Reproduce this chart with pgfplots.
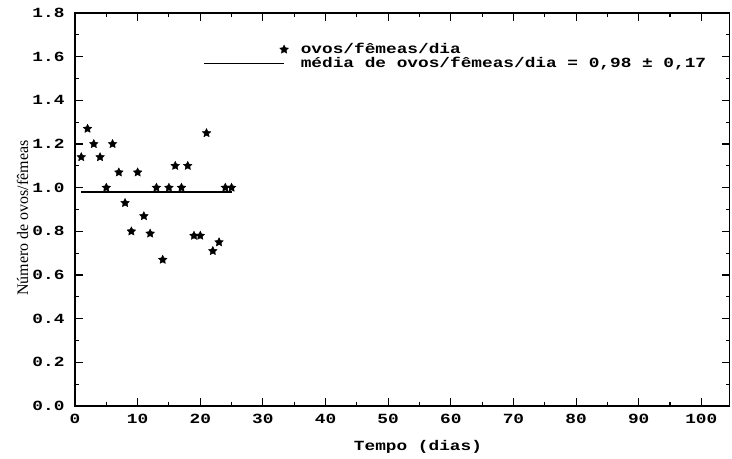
\documentclass[border=0pt]{standalone}
\usepackage{fontspec}
\usepackage{pgfplots}
\usepackage{pgfplotstable}
\pgfplotsset{compat=1.18}
\setmainfont{Liberation Serif}
\newfontfamily\plotfont{Liberation Mono}[FakeStretch=1.27]
\newcommand\plotfontsize{\plotfont\bfseries\fontsize{14bp}{14bp}\selectfont}

% filled five-pointed star
\pgfdeclareplotmark{fstar}{%
  \pgfpathmoveto{\pgfpointpolar{90}{\pgfplotmarksize}}%
  \pgfpathlineto{\pgfpointpolar{126}{0.5\pgfplotmarksize}}%
  \pgfpathlineto{\pgfpointpolar{162}{\pgfplotmarksize}}%
  \pgfpathlineto{\pgfpointpolar{198}{0.5\pgfplotmarksize}}%
  \pgfpathlineto{\pgfpointpolar{234}{\pgfplotmarksize}}%
  \pgfpathlineto{\pgfpointpolar{270}{0.5\pgfplotmarksize}}%
  \pgfpathlineto{\pgfpointpolar{306}{\pgfplotmarksize}}%
  \pgfpathlineto{\pgfpointpolar{342}{0.5\pgfplotmarksize}}%
  \pgfpathlineto{\pgfpointpolar{18}{\pgfplotmarksize}}%
  \pgfpathlineto{\pgfpointpolar{54}{0.5\pgfplotmarksize}}%
  \pgfpathclose
  \pgfusepathqfillstroke
}

% eggs per female per day
\pgfplotstableread{
dia  ovos
1    1.14
2    1.27
3    1.20
4    1.14
5    1.00
6    1.20
7    1.07
8    0.93
9    0.80
10   1.07
11   0.87
12   0.79
13   1.00
14   0.67
15   1.00
16   1.10
17   1.00
18   1.10
19   0.78
20   0.78
21   1.25
22   0.71
23   0.75
24   1.00
25   1.00
}\ovostable

\begin{document}
\begin{tikzpicture}
\useasboundingbox (0,0) rectangle (732bp,459bp);
\begin{axis}[
  at={(75bp,53bp)}, anchor=south west,
  scale only axis, width=654.5bp, height=393bp,
  xmin=0, xmax=104.5, ymin=0, ymax=1.8,
  xtick={0,10,...,100},
  ytick={0,0.2,0.4,0.6,0.8,1.0,1.2,1.4,1.6,1.8},
  minor x tick num=1, minor y tick num=1,
  tick align=inside, major tick length=8bp, minor tick length=4bp,
  tick style={black, line width=1.1bp},
  axis line style={black, line width=1.6bp},
  /pgf/number format/assume math mode=true,
  xticklabel style={font=\plotfontsize, yshift=-5bp},
  yticklabel style={font=\plotfontsize, xshift=-7bp,
    /pgf/number format/.cd, fixed, fixed zerofill, precision=1},
  xlabel={Tempo (dias)},
  xlabel style={font=\plotfontsize, at={(axis description cs:0.524,-0.104)}, anchor=center},
  ylabel={Número de ovos/fêmeas},
  ylabel style={font=\fontsize{16bp}{16bp}\selectfont, at={(axis description cs:-0.08,0.478)}, anchor=center},
  legend style={draw=none, fill=none, at={(axis cs:20,1.668)}, anchor=north west,
    font=\plotfontsize, row sep=3bp,
    nodes={inner sep=0pt, text height=9bp, text depth=2bp},
    /tikz/every odd column/.append style={column sep=11.5bp}},
  legend cell align=left,
  clip=false,
]
\addplot[only marks, mark=fstar, mark size=4.5bp, black,
  legend image code/.code={\path (0bp,-4bp) (84.5bp,4bp);
    \draw[black] plot[only marks, mark=fstar, mark size=4.5bp] coordinates {(80bp,0bp)};}]
  table[x=dia, y=ovos] {\ovostable};
\addlegendentry{ovos/fêmeas/dia}
\addplot[black, line width=1.3bp,
  legend image code/.code={\path (0bp,-4bp) (84.5bp,4bp);
    \draw[black, line width=1.3bp] (0bp,0bp) -- (80bp,0bp);}]
  coordinates {(1,0.98) (25,0.98)};
\addlegendentry{média de ovos/fêmeas/dia = 0,98 ± 0,17}
\end{axis}
\end{tikzpicture}
\end{document}
